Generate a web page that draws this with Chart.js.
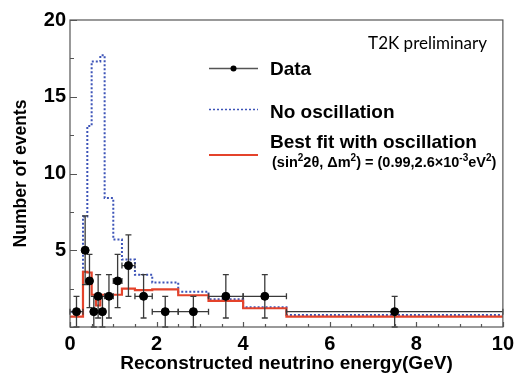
<!DOCTYPE html>
<html>
<head>
<meta charset="utf-8">
<script src="https://cdn.jsdelivr.net/npm/chart.js@4.4.1/dist/chart.umd.min.js"></script>
<style>
html, body { margin: 0; padding: 0; background: #fff; }
</style>
</head>
<body>
<canvas id="c" width="519" height="376"></canvas>
<script>
// bin edges (GeV) of the variable-width histogram
const binEdges = [0, 0.3, 0.4, 0.5, 0.6, 0.7, 0.8, 1.0, 1.2, 1.5, 1.9, 2.5, 3.2, 4.0, 5.0, 10];
// observed events per bin
const dataCounts = [1, 5, 3, 1, 2, 1, 2, 3, 4, 2, 1, 1, 2, 2, 1];
// expectation without oscillation
const noOsc = [1.0, 7.2, 13.1, 17.3, 17.3, 17.7, 8.4, 5.7, 4.4, 3.4, 2.9, 2.3, 1.8, 1.28, 0.78];
// best fit with oscillation
const bestFit = [0.67, 3.6, 3.55, 2.1, 1.4, 2.1, 2.1, 2.1, 2.5, 2.4, 2.45, 2.07, 1.7, 1.22, 0.67];
const xTicks = [0, 2, 4, 6, 8, 10];
const yTicks = [5, 10, 15, 20];

const FONT = "'Liberation Sans', Arial, sans-serif";

// histogram outline: each bin gives a flat segment from its left to its right edge
function stepPoints(vals) {
    const pts = [];
    vals.forEach((v, i) => {
        pts.push({x: binEdges[i], y: v});
        pts.push({x: binEdges[i + 1], y: v});
    });
    return pts;
}

const dataPoints = dataCounts.map((n, i) => ({
    x: (binEdges[i] + binEdges[i + 1]) / 2,
    y: n,
    xl: binEdges[i],
    xh: binEdges[i + 1],
    err: Math.sqrt(n)
}));

// error bars, drawn right before the data markers
const errorBars = {
    id: 'errorBars',
    beforeDatasetDraw(chart, args) {
        if (args.index !== 0) return;
        const {ctx, scales: {x, y}} = chart;
        ctx.save();
        ctx.strokeStyle = '#3a3a3a';
        ctx.lineWidth = 1.3;
        const cap = 3;
        dataPoints.forEach(p => {
            const px = x.getPixelForValue(p.x);
            const py = y.getPixelForValue(p.y);
            const xl = x.getPixelForValue(p.xl);
            const xh = x.getPixelForValue(p.xh);
            const yl = y.getPixelForValue(Math.max(0, p.y - p.err));
            const yh = y.getPixelForValue(p.y + p.err);
            ctx.beginPath();
            ctx.moveTo(xl, py); ctx.lineTo(xh, py);
            ctx.moveTo(px, yl); ctx.lineTo(px, yh);
            ctx.moveTo(xl, py - cap); ctx.lineTo(xl, py + cap);
            ctx.moveTo(xh, py - cap); ctx.lineTo(xh, py + cap);
            ctx.moveTo(px - cap, yh); ctx.lineTo(px + cap, yh);
            ctx.moveTo(px - cap, yl); ctx.lineTo(px + cap, yl);
            ctx.stroke();
        });
        ctx.restore();
    }
};

// frame and inward ROOT-style ticks
const frame = {
    id: 'frame',
    afterDraw(chart) {
        const {ctx, chartArea: a, scales: {x, y}} = chart;
        ctx.save();
        ctx.strokeStyle = '#555';
        ctx.lineWidth = 1.2;
        ctx.strokeRect(a.left, a.top, a.right - a.left, a.bottom - a.top);
        ctx.beginPath();
        for (let v = 0; v <= 10.001; v += 0.5) {
            const px = Math.round(x.getPixelForValue(v)) + 0.5;
            const len = Math.abs(v % 2) < 0.01 ? 5 : 3;
            ctx.moveTo(px, a.bottom); ctx.lineTo(px, a.bottom - len);
        }
        for (let v = 0; v <= 20.001; v += 2.5) {
            const py = Math.round(y.getPixelForValue(v)) + 0.5;
            const len = Math.abs(v % 5) < 0.01 ? 7 : 4;
            ctx.moveTo(a.left, py); ctx.lineTo(a.left + len, py);
        }
        ctx.stroke();
        ctx.restore();
    }
};

function drawRich(ctx, x, y, parts, size) {
    let cx = x;
    parts.forEach(([t, sup]) => {
        ctx.font = 'bold ' + (sup ? Math.round(size * 0.7) : size) + 'px ' + FONT;
        ctx.fillText(t, cx, sup ? y - size * 0.4 : y);
        cx += ctx.measureText(t).width;
    });
}

// hand-placed legend and label, like the ROOT TLegend
const legendBox = {
    id: 'legendBox',
    afterDraw(chart) {
        const ctx = chart.ctx;
        ctx.save();
        ctx.fillStyle = '#000';
        ctx.textBaseline = 'alphabetic';
        ctx.textAlign = 'right';
        ctx.font = '17px Lato, sans-serif';
        ctx.fillText('T2K preliminary', 487, 49);
        ctx.textAlign = 'left';

        ctx.lineWidth = 1.5;
        ctx.strokeStyle = '#555';
        ctx.beginPath(); ctx.moveTo(209, 68.5); ctx.lineTo(258, 68.5); ctx.stroke();
        ctx.beginPath(); ctx.arc(233.5, 68.5, 3, 0, Math.PI * 2); ctx.fill();

        ctx.strokeStyle = '#3d54b8';
        ctx.lineWidth = 1.5;
        ctx.setLineDash([2, 2]);
        ctx.beginPath(); ctx.moveTo(209, 109.5); ctx.lineTo(258, 109.5); ctx.stroke();
        ctx.setLineDash([]);

        ctx.strokeStyle = '#e4432b';
        ctx.lineWidth = 2;
        ctx.beginPath(); ctx.moveTo(209, 155); ctx.lineTo(258, 155); ctx.stroke();

        ctx.font = 'bold 19px ' + FONT;
        ctx.fillText('Data', 270, 75);
        ctx.fillText('No oscillation', 270, 117.5);
        ctx.fillText('Best fit with oscillation', 270, 148);
        drawRich(ctx, 272, 166.5, [
            ['(sin', false], ['2', true], ['2\u03b8, \u0394m', false], ['2', true],
            [') = (0.99,2.6\u00d710', false], ['-3', true], ['eV', false], ['2', true], [')', false]
        ], 14.5);
        ctx.restore();
    }
};

const ctx = document.getElementById('c');
new Chart(ctx, {
    type: 'scatter',
    data: {
        datasets: [{
            label: 'Data',
            data: dataPoints,
            backgroundColor: '#000',
            borderColor: '#000',
            pointRadius: 4,
            pointHoverRadius: 4
        }, {
            type: 'line',
            label: 'Best fit with oscillation',
            data: stepPoints(bestFit),
            borderColor: '#e4432b',
            borderWidth: 2.2,
            pointRadius: 0,
            tension: 0,
            fill: false
        }, {
            type: 'line',
            label: 'No oscillation',
            data: stepPoints(noOsc),
            borderColor: '#3d54b8',
            borderWidth: 2,
            borderDash: [2, 2],
            pointRadius: 0,
            tension: 0,
            fill: false
        }]
    },
    options: {
        responsive: false,
        animation: false,
        devicePixelRatio: 1,
        layout: {padding: {left: 0, top: 20, right: 12, bottom: 0}},
        plugins: {
            legend: {display: false},
            tooltip: {enabled: false}
        },
        scales: {
            x: {
                type: 'linear',
                min: 0,
                max: 10,
                afterBuildTicks: s => { s.ticks = xTicks.map(v => ({value: v})); },
                afterFit: s => { s.height = 49; },
                grid: {display: false, drawTicks: false},
                border: {display: false},
                ticks: {
                    padding: 5,
                    color: '#000',
                    font: {family: FONT, size: 20, weight: 'bold'},
                    maxRotation: 0
                },
                title: {
                    display: true,
                    text: 'Reconstructed neutrino energy(GeV)',
                    color: '#000',
                    font: {family: FONT, size: 19, weight: 'bold'},
                    padding: {top: 0, bottom: 1}
                }
            },
            y: {
                type: 'linear',
                min: 0,
                max: 20,
                afterBuildTicks: s => { s.ticks = yTicks.map(v => ({value: v})); },
                afterFit: s => { s.width = 70; },
                grid: {display: false, drawTicks: false},
                border: {display: false},
                ticks: {
                    padding: 4,
                    color: '#000',
                    font: {family: FONT, size: 20, weight: 'bold'}
                },
                title: {
                    display: true,
                    text: 'Number of events',
                    color: '#000',
                    font: {family: FONT, size: 17.5, weight: 'bold'},
                    padding: {top: 11, bottom: 0}
                }
            }
        }
    },
    plugins: [errorBars, frame, legendBox]
});
</script>
</body>
</html>
